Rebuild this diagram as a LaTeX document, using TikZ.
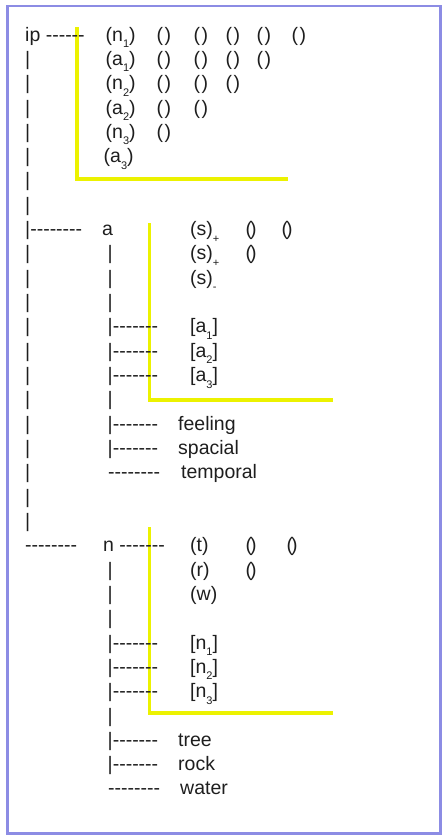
\documentclass[tikz,border=0pt]{standalone}
\usepackage{fontspec}
\setmainfont{Liberation Sans}[Ligatures=TeXOff]
\usepackage{tikz}

\definecolor{frameblue}{RGB}{140,140,228}
\definecolor{hlyellow}{RGB}{236,242,0}
\definecolor{textgray}{RGB}{30,30,30}
\newcommand{\subidx}[1]{\raisebox{-6.5pt}{\fontsize{11}{11}\selectfont #1}}
\newcommand{\openpar}{(\kern1.5pt)}
\newcommand{\emptypar}{(\kern-2pt)}

\tikzset{
  txt/.style={anchor=base west, text=textgray, font=\fontsize{19.5}{24}\selectfont},
  hl/.style={draw=hlyellow, line width=3.5pt},
}

\begin{document}
\begin{tikzpicture}[x=1pt, y=1pt]
  \tikzstyle{every node}+=[inner sep=0pt]
  \useasboundingbox (0,0) rectangle (443,-835);
  \draw [frameblue, line width=2.5pt] (7.5,-6) rectangle (440.5,-833.5);
  % highlight marks
  \draw [hl] (77,-27) -- (77,-179) -- (288,-179);
  \draw [hl] (149.5,-223) -- (149.5,-400) -- (333,-400);
  \draw [hl] (149.5,-527) -- (149.5,-713) -- (333,-713);
  % ip block
  \node [txt] (ip) at (25,-41) {ip ------};
    \node [txt] (n1) at (105.5,-41) {(n\subidx{1})};
    \node [txt] (n1c1) at (156.5,-41) {\openpar};
    \node [txt] (n1c2) at (193.5,-41) {\openpar};
    \node [txt] (n1c3) at (225.5,-41) {\openpar};
    \node [txt] (n1c4) at (256.5,-41) {\openpar};
    \node [txt] (n1c5) at (291.5,-41) {\openpar};
  \node [txt] (bar2) at (25,-65.3) {|};
    \node [txt] (a1) at (105.5,-65.3) {(a\subidx{1})};
    \node [txt] (a1c1) at (156.5,-65.3) {\openpar};
    \node [txt] (a1c2) at (193.5,-65.3) {\openpar};
    \node [txt] (a1c3) at (225.5,-65.3) {\openpar};
    \node [txt] (a1c4) at (256.5,-65.3) {\openpar};
  \node [txt] (bar3) at (25,-89.6) {|};
    \node [txt] (n2) at (105.5,-89.6) {(n\subidx{2})};
    \node [txt] (n2c1) at (156.5,-89.6) {\openpar};
    \node [txt] (n2c2) at (193.5,-89.6) {\openpar};
    \node [txt] (n2c3) at (225.5,-89.6) {\openpar};
  \node [txt] (bar4) at (25,-114) {|};
    \node [txt] (a2) at (105.5,-114) {(a\subidx{2})};
    \node [txt] (a2c1) at (156.5,-114) {\openpar};
    \node [txt] (a2c2) at (193.5,-114) {\openpar};
  \node [txt] (bar5) at (25,-138.3) {|};
    \node [txt] (n3) at (105.5,-138.3) {(n\subidx{3})};
    \node [txt] (n3c1) at (156.5,-138.3) {\openpar};
  \node [txt] (bar6) at (25,-162.6) {|};
    \node [txt] (a3) at (103.5,-162.6) {(a\subidx{3})};
  \node [txt] (bar7) at (25,-186.9) {|};
  \node [txt] (bar8) at (25,-211.2) {|};
  % a block
  \node [txt] (toa) at (25,-235.6) {|--------};
    \node [txt] (a) at (102,-235.6) {a};
    \node [txt] (sp1) at (190,-235.6) {(s)\subidx{+}};
    \node [txt] (sp1c1) at (245.5,-235.6) {\emptypar};
    \node [txt] (sp1c2) at (281.5,-235.6) {\emptypar};
  \node [txt] (bar10) at (25,-259.9) {|};
    \node [txt] (abar10) at (107.5,-259.9) {|};
    \node [txt] (sp2) at (190,-259.9) {(s)\subidx{+}};
    \node [txt] (sp2c1) at (245.5,-259.9) {\emptypar};
  \node [txt] (bar11) at (25,-284.2) {|};
    \node [txt] (abar11) at (107.5,-284.2) {|};
    \node [txt] (sm) at (190,-284.2) {(s)\subidx{-}};
  \node [txt] (bar12) at (25,-308.5) {|};
    \node [txt] (abar12) at (107.5,-308.5) {|};
  \node [txt] (bar13) at (25,-332.8) {|};
    \node [txt] (toa1) at (107.5,-332.8) {|-------};
    \node [txt] (ba1) at (190,-332.8) {[a\subidx{1}]};
  \node [txt] (bar14) at (25,-357.2) {|};
    \node [txt] (toa2) at (107.5,-357.2) {|-------};
    \node [txt] (ba2) at (190,-357.2) {[a\subidx{2}]};
  \node [txt] (bar15) at (25,-381.5) {|};
    \node [txt] (toa3) at (107.5,-381.5) {|-------};
    \node [txt] (ba3) at (190,-381.5) {[a\subidx{3}]};
  \node [txt] (bar16) at (25,-405.8) {|};
    \node [txt] (abar16) at (107.5,-405.8) {|};
  \node [txt] (bar17) at (25,-430.1) {|};
    \node [txt] (tofeel) at (107.5,-430.1) {|-------};
    \node [txt] (feeling) at (178,-430.1) {feeling};
  \node [txt] (bar18) at (25,-454.4) {|};
    \node [txt] (tospac) at (107.5,-454.4) {|-------};
    \node [txt] (spacial) at (178,-454.4) {spacial};
  \node [txt] (bar19) at (25,-478.8) {|};
    \node [txt] (totemp) at (108,-478.8) {--------};
    \node [txt] (temporal) at (181,-478.8) {temporal};
  \node [txt] (bar20) at (25,-503.1) {|};
  \node [txt] (bar21) at (25,-527.4) {|};
  % n block
  \node [txt] (ton) at (25,-551.7) {--------};
    \node [txt] (n) at (103,-551.7) {n -------};
    \node [txt] (t) at (190,-551.7) {(t)};
    \node [txt] (tc1) at (245.5,-551.7) {\emptypar};
    \node [txt] (tc2) at (286.5,-551.7) {\emptypar};
  \node [txt] (nbar23) at (107.5,-576) {|};
    \node [txt] (r) at (190,-576) {(r)};
    \node [txt] (rc1) at (245.5,-576) {\emptypar};
  \node [txt] (nbar24) at (107.5,-600.4) {|};
    \node [txt] (w) at (190,-600.4) {(w)};
  \node [txt] (nbar25) at (107.5,-624.7) {|};
  \node [txt] (ton1) at (107.5,-649) {|-------};
    \node [txt] (bn1) at (190,-649) {[n\subidx{1}]};
  \node [txt] (ton2) at (107.5,-673.3) {|-------};
    \node [txt] (bn2) at (190,-673.3) {[n\subidx{2}]};
  \node [txt] (ton3) at (107.5,-697.6) {|-------};
    \node [txt] (bn3) at (190,-697.6) {[n\subidx{3}]};
  \node [txt] (nbar29) at (107.5,-722) {|};
  \node [txt] (totree) at (107.5,-746.3) {|-------};
    \node [txt] (tree) at (178,-746.3) {tree};
  \node [txt] (torock) at (107.5,-770.6) {|-------};
    \node [txt] (rock) at (178,-770.6) {rock};
  \node [txt] (towater) at (108,-794.9) {--------};
    \node [txt] (water) at (180,-794.9) {water};
\end{tikzpicture}
\end{document}
